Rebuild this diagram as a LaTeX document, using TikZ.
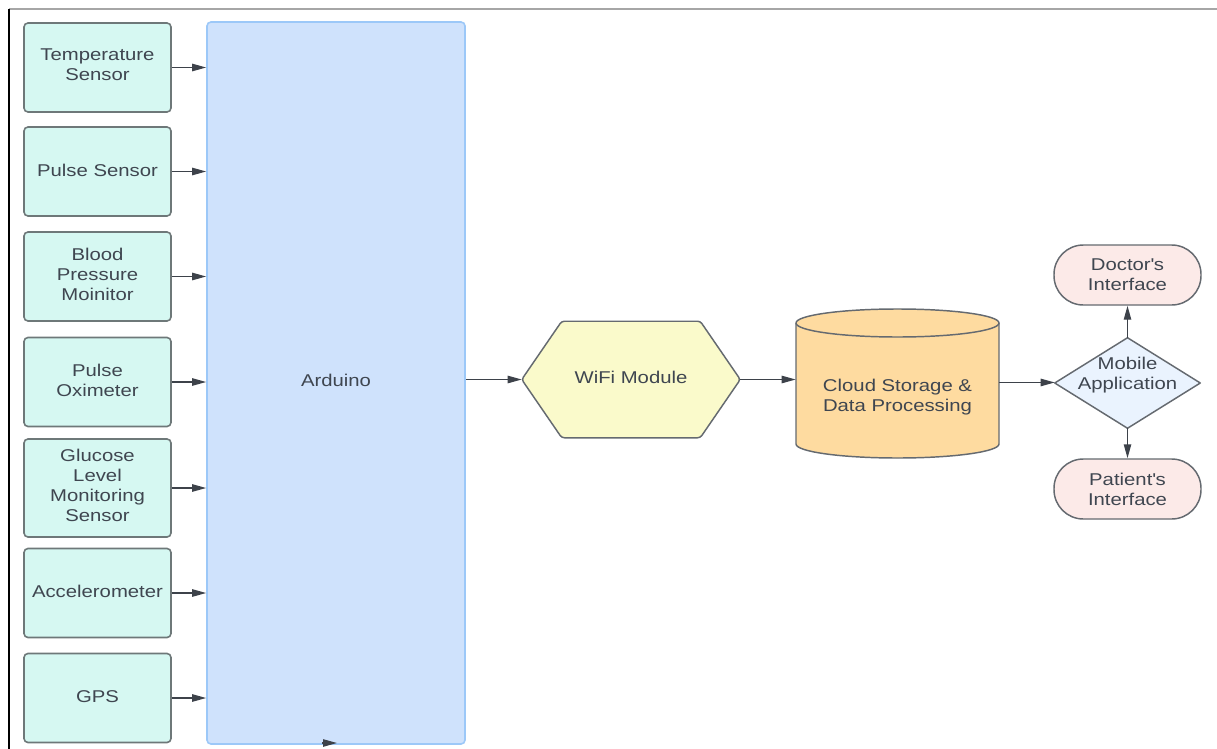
\documentclass[tikz,border=0pt]{standalone}
\usepackage{fontspec}
\setmainfont{Liberation Sans}[FakeStretch=1.19]
\usetikzlibrary{arrows.meta,backgrounds}
\definecolor{txt}{HTML}{3F4650}
\definecolor{arr}{HTML}{3D424A}
\definecolor{sensfill}{HTML}{D6F8F2}
\definecolor{sensdraw}{HTML}{6E7879}
\definecolor{ardfill}{HTML}{CFE2FC}
\definecolor{arddraw}{HTML}{9CC8F8}
\definecolor{wififill}{HTML}{FAFACB}
\definecolor{cylfill}{HTML}{FEDBA0}
\definecolor{mobfill}{HTML}{EAF3FE}
\definecolor{pillfill}{HTML}{FCEAE8}
\definecolor{shapedraw}{HTML}{656A70}
\tikzset{
  lbl/.style={font=\fontsize{12.8}{15}\selectfont, text=txt, align=center, inner sep=0pt},
  sensor/.style={rectangle, rounded corners=3pt, fill=sensfill, draw=sensdraw, line width=1.2pt,
    minimum width=110.25pt, minimum height=66.75pt},
  ardbox/.style={rectangle, rounded corners=3pt, fill=ardfill, draw=arddraw, line width=1.2pt,
    minimum width=193.5pt, minimum height=541.5pt},
  pill/.style={lbl, rectangle, rounded corners=22pt, fill=pillfill, draw=shapedraw, line width=1.1pt,
    minimum width=110.25pt, minimum height=45pt},
  holder/.style={rectangle, draw=none, inner sep=0pt},
  shapeline/.style={draw=shapedraw, line width=1.1pt, line join=round},
  conn/.style={draw=arr, line width=1.1pt, -{Triangle[length=10.5pt,width=5.5pt]}}
}
\begin{document}
\begin{tikzpicture}[x=0.75pt,y=-0.75pt]
\useasboundingbox (0,0) rectangle (1217,749);
\begin{pgfonlayer}{background}
\fill[white] (0,0) rectangle (1217,749);
\end{pgfonlayer}
% frame
\draw[gray!70, line width=0.8pt] (9,9) -- (1217,9);
\draw[black, line width=1.1pt] (9,9) -- (9,749);

% sensors
\node[sensor] (s1) at (97.5,67.5) {};
\node[sensor] (s2) at (97.5,171.5) {};
\node[sensor] (s3) at (97.5,276.5) {};
\node[sensor] (s4) at (97.5,382) {};
\node[sensor, minimum height=73.5pt] (s5) at (97.5,488) {};
\node[sensor] (s6) at (97.5,593) {};
\node[sensor] (s7) at (97.5,698) {};
\node[lbl] (t1) at (97.5,65) {Temperature\\Sensor};
\node[lbl] (t2) at (97.5,170) {Pulse Sensor};
\node[lbl] (t3) at (97.5,274.5) {Blood\\Pressure\\Moinitor};
\node[lbl] (t4) at (97.5,380) {Pulse\\Oximeter};
\node[lbl] (t5) at (97.5,485.5) {Glucose\\Level\\Monitoring\\Sensor};
\node[lbl] (t6) at (97.5,591) {Accelerometer};
\node[lbl] (t7) at (97.5,696.5) {GPS};

% Arduino
\node[ardbox] (ard) at (336,383) {};
\node[lbl] (ardlbl) at (336,380) {Arduino};

\foreach \s in {s1,s2,s3,s4,s5,s6,s7}{
  \draw[conn] (\s.east) -- (\s.east -| ard.west);
}

% stray arrowhead at bottom of Arduino
\coordinate (bt1) at (322,743);
\coordinate (bt2) at (337,743);
\draw[conn] (bt1) -- (bt2);

% WiFi module (hexagon)
\node[holder, minimum width=163.5pt, minimum height=87pt] (wifi) at (631,379.5) {};
\node[lbl] (wifilbl) at (631,377.5) {WiFi Module};
\begin{pgfonlayer}{background}
\draw[shapeline, fill=wififill, rounded corners=2pt]
  (wifi.west) -- ([xshift=30pt]wifi.north west) -- ([xshift=-30pt]wifi.north east)
  -- (wifi.east) -- ([xshift=-30pt]wifi.south east) -- ([xshift=30pt]wifi.south west) -- cycle;
\end{pgfonlayer}

% Cloud storage (cylinder)
\node[holder, minimum width=152.25pt, minimum height=112.5pt] (cloud) at (897.5,383) {};
\node[lbl] (cloudlbl) at (897.5,397) {Cloud Storage \&\\Data Processing};
\begin{pgfonlayer}{background}
\draw[shapeline, fill=cylfill]
  (796,323) -- (796,444)
  .. controls (796,451.73) and (841.44,458) .. (897.5,458)
  .. controls (953.56,458) and (999,451.73) .. (999,444)
  -- (999,323)
  .. controls (999,315.27) and (953.56,309) .. (897.5,309)
  .. controls (841.44,309) and (796,315.27) .. (796,323) -- cycle;
\draw[shapeline]
  (796,323) .. controls (796,330.73) and (841.44,337) .. (897.5,337)
  .. controls (953.56,337) and (999,330.73) .. (999,323);
\end{pgfonlayer}

% Mobile application (diamond)
\node[holder, minimum width=108.75pt, minimum height=67.5pt] (mob) at (1127.5,383) {};
\node[lbl] (moblbl) at (1127.5,375.5) {Mobile\\Application};
\begin{pgfonlayer}{background}
\draw[shapeline, fill=mobfill] (mob.west) -- (mob.north) -- (mob.east) -- (mob.south) -- cycle;
\end{pgfonlayer}

% interfaces
\node[pill] (doc) at (1127.5,275) {Doctor\textquotesingle s\\Interface};
\node[pill] (pat) at (1127.5,489) {Patient\textquotesingle s\\Interface};

% connectors
\draw[conn] (ard.east |- wifi.west) -- (wifi.west);
\draw[conn] (wifi.east) -- (wifi.east -| cloud.west);
\draw[conn] ([yshift=0.4pt]cloud.east) -- ([yshift=0.4pt]mob.west);
\draw[conn] (mob.north) -- (doc.south);
\draw[conn] (mob.south) -- (pat.north);
\end{tikzpicture}
\end{document}
